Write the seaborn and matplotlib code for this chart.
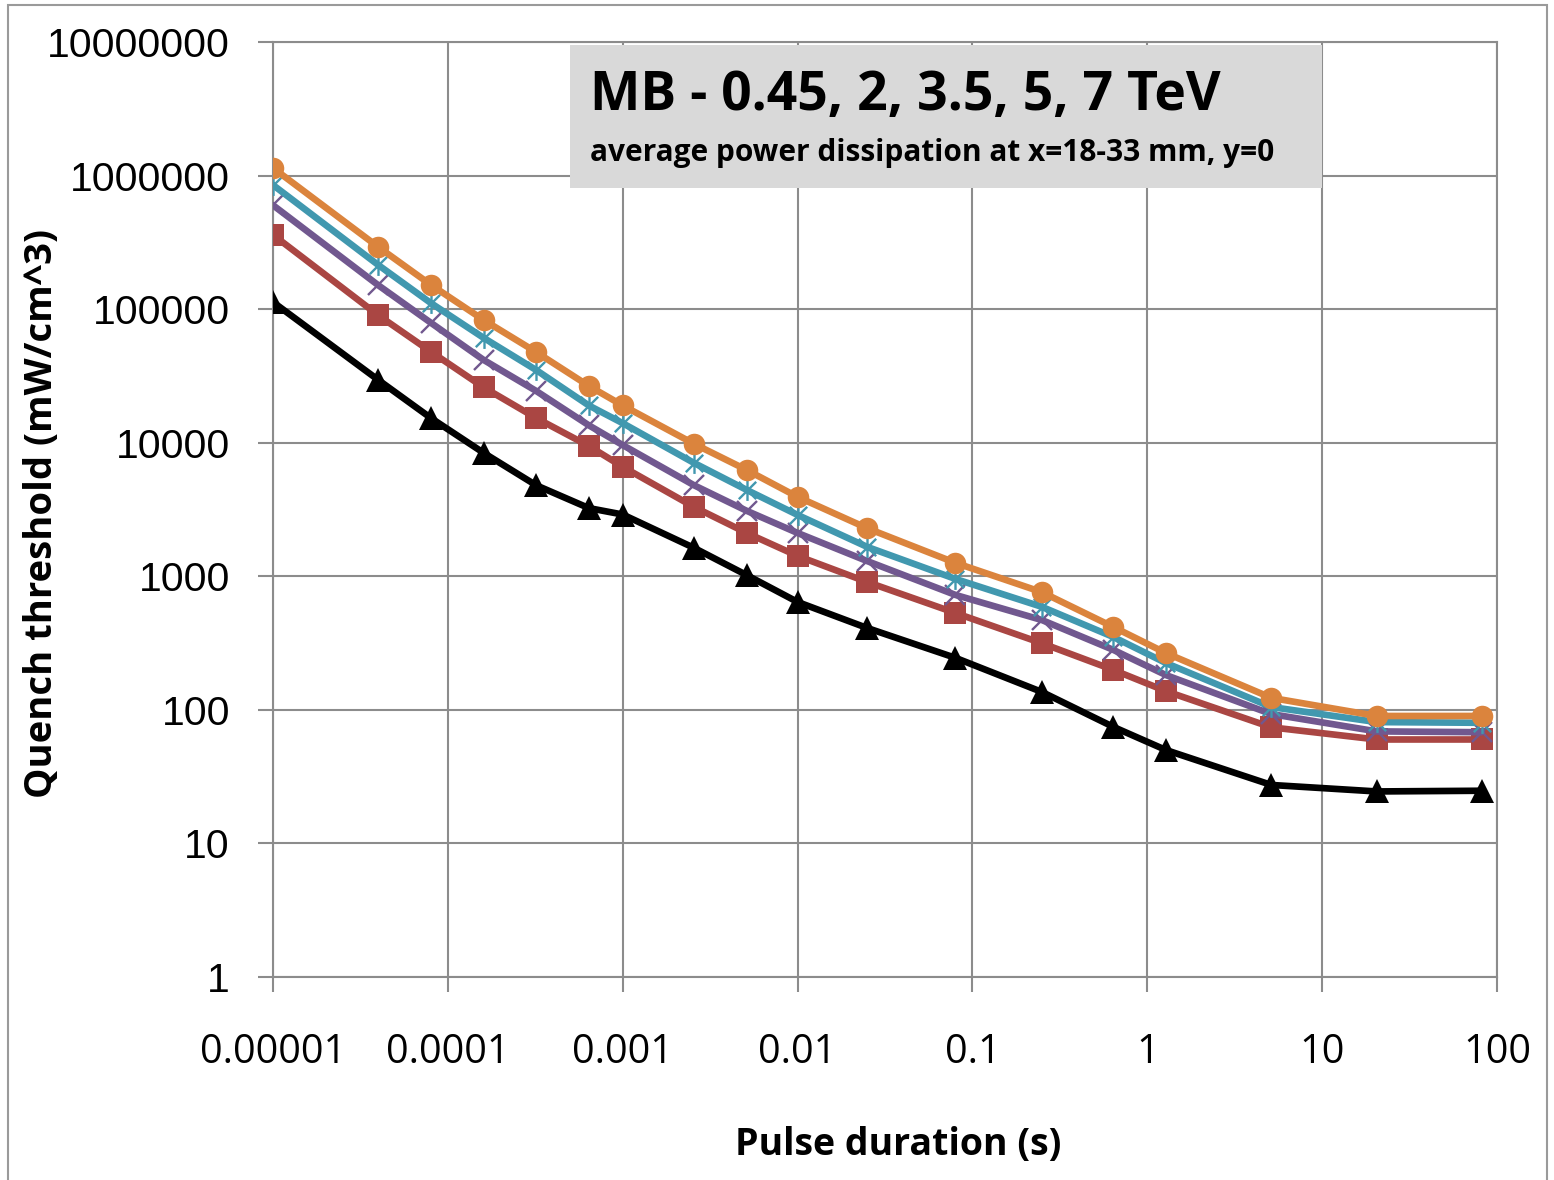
import matplotlib
matplotlib.use("Agg")
import matplotlib.pyplot as plt
from matplotlib.patches import Rectangle
from matplotlib.path import Path
import pandas as pd
import seaborn as sns

# pulse durations (s)
PULSE = [1e-5, 4e-5, 8e-5, 1.6e-4, 3.2e-4, 6.4e-4, 1e-3, 2.56e-3, 5.12e-3, 1e-2,
         2.5e-2, 8e-2, 0.25, 0.64, 1.28, 5.12, 20.48, 81.92]
# quench threshold (mW/cm^3) per beam energy
Q_045 = [113000, 29500, 15300, 8400, 4800, 3240, 2900, 1630, 1020, 642,
         410, 245, 136, 74.5, 50, 27.4, 24.5, 24.8]
Q_2 = [360000, 90000, 48000, 26000, 15300, 9450, 6600, 3300, 2110, 1420,
       906, 531, 315, 199, 138, 74, 60, 60]
Q_35 = [600000, 151000, 79000, 41700, 24400, 13500, 9600, 4800, 3090, 2110,
        1300, 725, 470, 281, 182, 93, 69, 68]
Q_5 = [850000, 214000, 111000, 61000, 35000, 19000, 14000, 7050, 4430, 2880,
       1660, 955, 590, 351, 224, 105, 81, 80]
Q_7 = [1140000, 292000, 152000, 83000, 47700, 26600, 19000, 9800, 6250, 3930,
       2290, 1260, 760, 417, 266, 123, 90, 90]

XTICKS = [1e-5, 1e-4, 1e-3, 1e-2, 1e-1, 1, 10, 100]
XTICK_LABELS = ["0.00001", "0.0001", "0.001", "0.01", "0.1", "1", "10", "100"]
YTICKS = [1, 10, 100, 1e3, 1e4, 1e5, 1e6, 1e7]
YTICK_LABELS = ["1", "10", "100", "1000", "10000", "100000", "1000000", "10000000"]

# excel-style star: an X with a vertical bar
STAR = Path([(-1, -1), (1, 1), (-1, 1), (1, -1), (0, -1.2), (0, 1.2)],
            [Path.MOVETO, Path.LINETO, Path.MOVETO, Path.LINETO, Path.MOVETO, Path.LINETO])

SERIES = [
    ("0.45 TeV", Q_045, "#000000", "^", 17, 0),
    ("2 TeV", Q_2, "#AA4643", "s", 15.5, 0),
    ("3.5 TeV", Q_35, "#71588F", "x", 14, 1.7),
    ("5 TeV", Q_5, "#4198AF", STAR, 15, 1.7),
    ("7 TeV", Q_7, "#DB843D", "o", 15.5, 0),
]

frames = [pd.DataFrame({"pulse": PULSE, "threshold": vals, "energy": name})
          for name, vals, *_ in SERIES]
df = pd.concat(frames, ignore_index=True)

sns.set_theme(style="white")
plt.rcParams["text.color"] = "black"
GRID = "#8C8C8C"

fig = plt.figure(figsize=(15.54, 11.8), dpi=100)
ax = fig.add_axes([273 / 1554, 1 - 977 / 1180, (1497 - 273) / 1554, (977 - 42) / 1180])
ax.set_xscale("log")
ax.set_yscale("log")

for name, vals, color, marker, ms, mew in SERIES:
    sns.lineplot(data=df[df["energy"] == name], x="pulse", y="threshold", ax=ax,
                 color=color, linewidth=4.8, marker=marker, markersize=ms,
                 markerfacecolor=color, markeredgecolor=color, markeredgewidth=mew,
                 zorder=3)

ax.set_xlim(1e-5, 100)
ax.set_ylim(1, 1e7)
ax.set_xticks(XTICKS, labels=XTICK_LABELS)
ax.set_yticks(YTICKS, labels=YTICK_LABELS)
ax.minorticks_off()
ax.grid(True, color=GRID, linewidth=1.5)
for s in ax.spines.values():
    s.set_color(GRID)
    s.set_linewidth(1.5)
ax.tick_params(axis="both", which="major", color=GRID, width=1.5, length=11,
               direction="out", left=True, bottom=True, labelcolor="black")
ax.tick_params(axis="x", pad=29)
ax.tick_params(axis="y", pad=20)
for lab in ax.get_xticklabels():
    lab.set_fontfamily("Open Sans")
    lab.set_fontsize(28.5)
for lab in ax.get_yticklabels():
    lab.set_fontfamily("Liberation Sans")
    lab.set_fontsize(29.5)
ax.set_xlabel("")
ax.set_ylabel("")

# axis titles
fig.text(898 / 1554, 1 - 1145 / 1180, "Pulse duration (s)", ha="center", va="center",
         fontsize=27, fontweight="bold", family="Open Sans", color="black")
fig.text(42 / 1554, 1 - 514 / 1180, "Quench threshold (mW/cm^3)", ha="center", va="center",
         rotation=90, fontsize=27.5, fontweight="bold", family="Open Sans", color="black")

# title box
fig.patches.append(Rectangle((570 / 1554, 1 - 188 / 1180), (1322 - 570) / 1554, (188 - 45) / 1180,
                             transform=fig.transFigure, facecolor="#D9D9D9", edgecolor="none", zorder=2))
fig.text(590 / 1554, 1 - 110 / 1180, "MB - 0.45, 2, 3.5, 5, 7 TeV", ha="left", va="baseline",
         fontsize=38.5, fontweight="bold", family="Open Sans", color="black", zorder=3)
fig.text(590 / 1554, 1 - 161 / 1180, "average power dissipation at x=18-33 mm, y=0", ha="left",
         va="baseline", fontsize=21.5, fontweight="bold", family="Open Sans", color="black", zorder=3)

# outer chart frame
fig.patches.append(Rectangle((8 / 1554, -0.05), (1547 - 8) / 1554, 1.05 - 5 / 1180,
                             transform=fig.transFigure, facecolor="none", edgecolor="#9A9A9A",
                             linewidth=1.5, zorder=2))

fig.savefig("out.png", dpi=100)
